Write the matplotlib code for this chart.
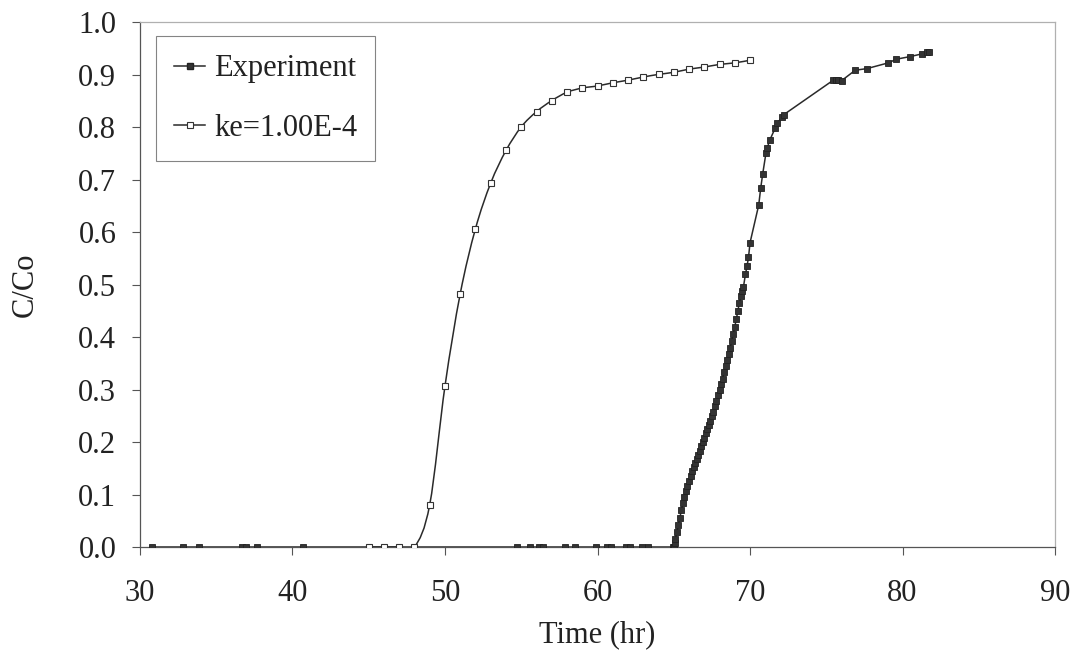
import numpy as np
import matplotlib
matplotlib.use("Agg")
import matplotlib.pyplot as plt
from matplotlib.path import Path
from matplotlib.patches import PathPatch
from matplotlib.lines import Line2D

# ----------------------------
# Datos
# ----------------------------
exp_t = [30.77, 32.8, 33.9, 36.67, 36.95, 37.7, 40.66,
         54.7, 55.6, 56.15, 56.45, 57.85, 58.55, 59.9, 60.6, 60.9,
         61.9, 62.15, 62.9, 63.3, 64.95,
         65.0, 65.05, 65.1, 65.2, 65.3, 65.4, 65.5, 65.6, 65.7, 65.8,
         65.9, 66.0, 66.1, 66.2, 66.3, 66.4, 66.5, 66.6, 66.7, 66.8,
         66.9, 67.0, 67.1, 67.2, 67.3, 67.4, 67.5, 67.6, 67.7, 67.8,
         67.9, 68.0, 68.1, 68.2, 68.3, 68.4, 68.5, 68.6, 68.7, 68.8,
         68.9, 69.0, 69.1, 69.2, 69.3, 69.4, 69.5, 69.57, 69.7, 69.8,
         69.9, 70.0, 70.57, 70.7, 70.83, 71.05, 71.13, 71.3, 71.64, 71.79,
         72.08, 72.2, 75.46, 75.65, 75.8, 76.0, 76.9, 77.66, 79.07, 79.6,
         80.5, 81.26, 81.6, 81.75]
exp_c = [0, 0, 0, 0, 0, 0, 0,
         0, 0, 0, 0, 0, 0, 0, 0, 0,
         0, 0, 0, 0, 0,
         0.000, 0.008, 0.015, 0.028, 0.042, 0.056, 0.070, 0.083, 0.096, 0.106,
         0.116, 0.126, 0.136, 0.144, 0.152, 0.160, 0.168, 0.176, 0.184, 0.192,
         0.200, 0.208, 0.217, 0.225, 0.233, 0.241, 0.249, 0.258, 0.268, 0.278,
         0.289, 0.299, 0.310, 0.321, 0.333, 0.345, 0.357, 0.368, 0.380, 0.393,
         0.407, 0.420, 0.434, 0.450, 0.465, 0.478, 0.488, 0.496, 0.520, 0.535,
         0.552, 0.580, 0.652, 0.684, 0.711, 0.752, 0.761, 0.776, 0.798, 0.808,
         0.819, 0.824, 0.890, 0.891, 0.890, 0.889, 0.909, 0.912, 0.923, 0.930,
         0.935, 0.940, 0.943, 0.944]

mod_t = [45, 46, 47, 48, 49, 50, 51, 52, 53, 54, 55, 56, 57, 58, 59,
         60, 61, 62, 63, 64, 65, 66, 67, 68, 69, 70]
mod_c = [0, 0, 0, 0, 0.081, 0.307, 0.483, 0.607, 0.694, 0.756, 0.801,
         0.830, 0.851, 0.867, 0.875, 0.879, 0.885, 0.890, 0.896, 0.901,
         0.905, 0.911, 0.915, 0.920, 0.923, 0.928]

xticks = [30, 40, 50, 60, 70, 80, 90]
yticks = np.arange(0, 1.01, 0.1)

plt.rcParams['font.family'] = ['Liberation Serif', 'DejaVu Serif']
tc = '#222222'
fs = 22


def smooth_path(x, y):
    # linea suavizada tipo Excel (Bezier por Catmull-Rom)
    p = np.column_stack([x, y]).astype(float)
    pts = [p[0]]
    codes = [Path.MOVETO]
    n = len(p)
    for i in range(n - 1):
        p0 = p[i - 1] if i > 0 else p[i]
        p3 = p[i + 2] if i + 2 < n else p[i + 1]
        c1 = p[i] + (p[i + 1] - p0) / 6
        c2 = p[i + 1] - (p3 - p[i]) / 6
        pts += [c1, c2, p[i + 1]]
        codes += [Path.CURVE4] * 3
    return Path(pts, codes)


fig = plt.figure(figsize=(10.8, 6.57), dpi=100)
ax = fig.add_axes([0.1296, 0.1674, 0.8473, 0.7984])

ax.plot(exp_t, exp_c, '-', color='#2a2a2a', lw=1.1,
        marker='s', ms=4.8, mfc='#333333', mec='#222222', mew=0.6, zorder=3)

ax.add_patch(PathPatch(smooth_path(mod_t, mod_c), fc='none',
                       ec='#2a2a2a', lw=1.1, zorder=2))
ax.plot(mod_t, mod_c, ls='none', marker='s', ms=5, mfc='white',
        mec='#333333', mew=0.8, zorder=4)

ax.set_xlim(30, 90)
ax.set_ylim(0, 1.0)
ax.set_xticks(xticks)
ax.set_yticks(yticks)
ax.set_yticklabels([f'{v:.1f}' for v in yticks])
ax.tick_params(direction='out', length=6, width=0.8, colors='#555555',
               labelcolor=tc, labelsize=fs)
ax.tick_params(axis='y', pad=11)
ax.tick_params(axis='x', pad=17)
for s in ['left', 'bottom']:
    ax.spines[s].set_color('#555555')
    ax.spines[s].set_linewidth(0.9)
for s in ['top', 'right']:
    ax.spines[s].set_color('#b0b0b0')
    ax.spines[s].set_linewidth(0.9)

ax.set_xlabel('Time (hr)', fontsize=fs, color=tc, labelpad=9)
ax.set_ylabel('C/Co', fontsize=fs, color=tc, labelpad=28)

h_exp = Line2D([], [], color='#2a2a2a', lw=1.1, marker='s', ms=4.8,
               mfc='#333333', mec='#222222')
h_mod = Line2D([], [], color='#2a2a2a', lw=1.1, marker='s', ms=5,
               mfc='white', mec='#333333', mew=0.8)
leg = ax.legend([h_exp, h_mod], ['Experiment', 'ke=1.00E-4'],
                loc='upper left', bbox_to_anchor=(0.0175, 0.974),
                fontsize=fs, frameon=True, fancybox=False,
                handlelength=1.0, handletextpad=0.3, labelspacing=1.0,
                borderpad=0.6, borderaxespad=0)
leg.get_frame().set_edgecolor('#666666')
leg.get_frame().set_linewidth(0.8)
for t in leg.get_texts():
    t.set_color(tc)

fig.savefig('out.png', dpi=100)
